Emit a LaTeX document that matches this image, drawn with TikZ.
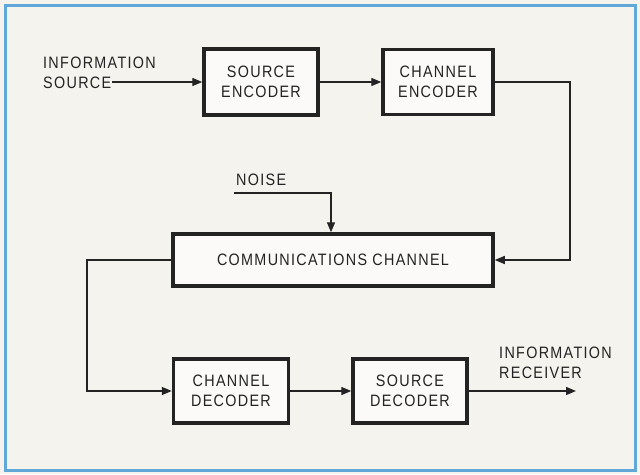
\documentclass[tikz,border=0pt]{standalone}
\usepackage{fontspec}
\setmainfont[LetterSpace=8,FakeStretch=0.87]{Liberation Sans}
\usepackage{tikz}
\usetikzlibrary{arrows.meta,positioning,calc}

\definecolor{paper}{RGB}{245,243,237}
\definecolor{frameblue}{RGB}{95,168,215}
\definecolor{ink}{RGB}{35,35,35}

\begin{document}
\begin{tikzpicture}[x=1pt,y=-1pt,
    font=\fontsize{16.5}{20}\selectfont,
    block/.style={draw=ink, line width=3.5pt, fill=white!60!paper, align=center, text=ink,
      inner sep=0pt},
    lbl/.style={align=left, text=ink, inner sep=0pt, anchor=west},
    arr/.style={draw=ink, line width=1.4pt, -{Triangle[length=10pt,width=8pt]}}]
    % Paper and frame
    \useasboundingbox (0,0) rectangle (640,474);
    \fill[paper] (0,0) rectangle (640,474);
    \draw[frameblue, line width=3pt] (5,5) rectangle (635,470);

    % Encoding side
    \node[lbl] (insrc) at (43,73) {INFORMATION\\SOURCE};
    \coordinate (srcout) at (112,82);
    \node[block, minimum width=114pt, minimum height=66pt] (srcenc) at (261,82) {SOURCE\\ENCODER};
    \node[block, minimum width=110pt, minimum height=65pt] (chenc) at (438,82) {CHANNEL\\ENCODER};

    % Channel and noise
    \node[block, minimum width=320pt, minimum height=52pt] (comm) at (333,260) {COMMUNICATIONS CHANNEL};
    \node[lbl] (noise) at (236,180) {NOISE};
    \coordinate (noisein) at (234,193);
    \coordinate (chright) at (570,82);
    \coordinate (chleft) at (87,260);

    % Decoding side
    \node[block, minimum width=115pt, minimum height=64pt] (chdec) at (231,391) {CHANNEL\\DECODER};
    \node[block, minimum width=114pt, minimum height=64pt] (srcdec) at (410,391) {SOURCE\\DECODER};
    \node[lbl] (inrx) at (499,363) {INFORMATION\\RECEIVER};
    \coordinate (rxend) at (576,391);

    % Connectors
    \draw[arr] (srcout) -- (srcenc.west);
    \draw[arr] (srcenc.east) -- (chenc.west);
    \draw[arr] (chenc.east) -- (chright) |- (comm.east);
    \draw[arr] (noisein) -| ([xshift=-2pt]comm.north);
    \draw[arr] (comm.west) -- (chleft) |- (chdec.west);
    \draw[arr] (chdec.east) -- (srcdec.west);
    \draw[arr] (srcdec.east) -- (rxend);
\end{tikzpicture}
\end{document}
